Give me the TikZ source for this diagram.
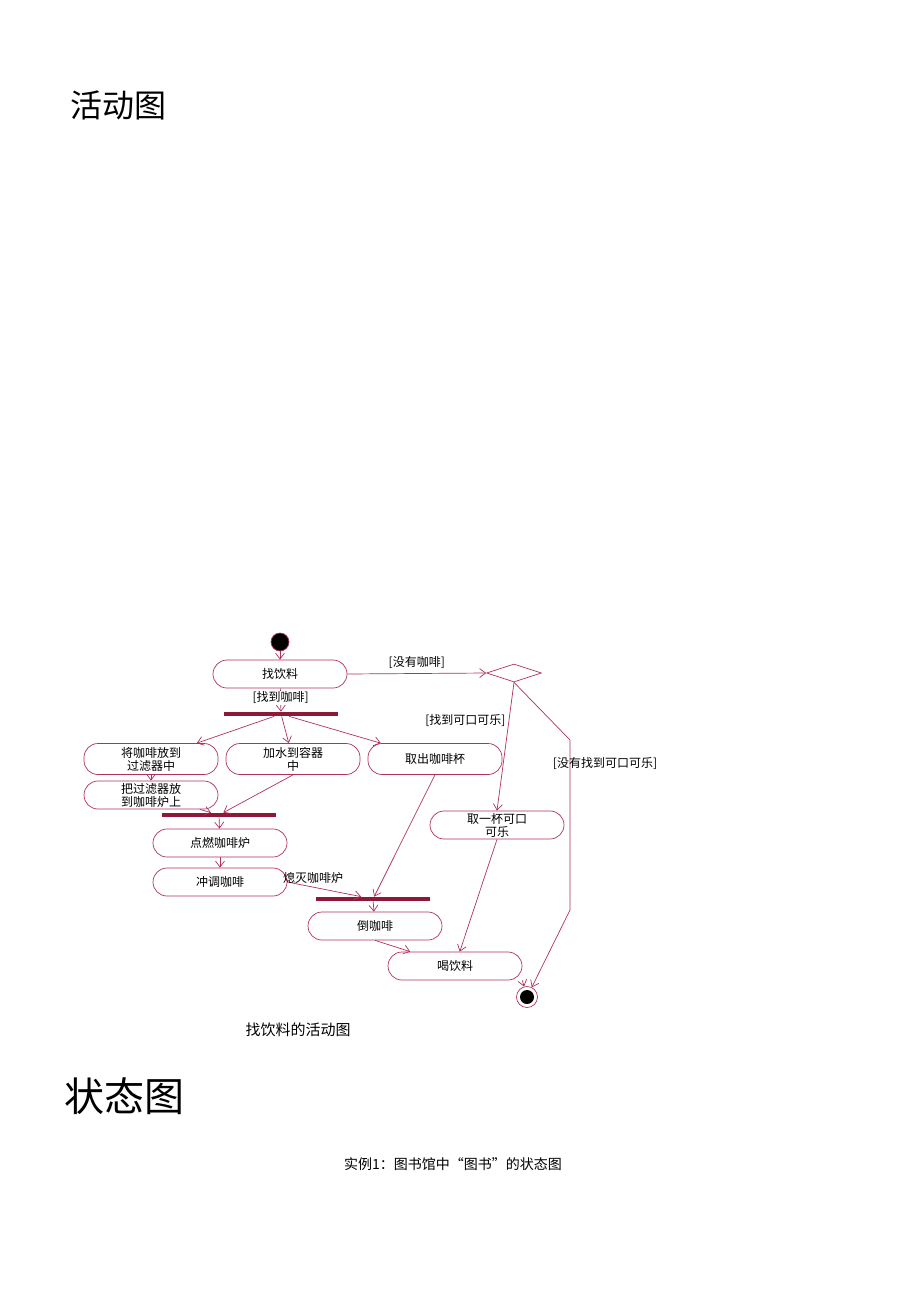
\documentclass[tikz,border=0pt]{standalone}
\usepackage{fontspec}
\setmainfont{Noto Sans CJK SC}
\usetikzlibrary{shapes.geometric,arrows.meta}
\definecolor{ln}{HTML}{B03060}
\definecolor{bar}{HTML}{8E1838}
\begin{document}
\begin{tikzpicture}[x=1pt,y=-1pt,line width=0.7pt,
  act/.style={draw=ln,rounded corners=14pt,minimum width=134pt,minimum height=28pt,font=\fontsize{12}{13}\selectfont,align=center,inner sep=1pt},
  fl/.style={draw=ln,-{Straight Barb[length=6pt,width=9pt]}},
  lab/.style={font=\fontsize{12}{13}\selectfont,inner sep=1pt},
  barst/.style={fill=bar,minimum width=114pt,minimum height=4pt,inner sep=0pt}]
\useasboundingbox (0,0) rectangle (920,1301);
\node[font=\fontsize{32}{34}\selectfont] (t1) at (118,105) {活动图};
\node[font=\fontsize{40}{42}\selectfont] (t2) at (124,1096) {状态图};
\node[font=\fontsize{15}{16}\selectfont] (cap) at (298,1030) {找饮料的活动图};
\node[font=\fontsize{14}{15}\selectfont] (cap2) at (453,1164) {实例1：图书馆中“图书”的状态图};

\node[circle,fill=black,draw=ln,minimum size=18pt,inner sep=0pt] (s) at (280,642) {};
\node[act] (a1) at (280,674) {找饮料};
\node[diamond,draw=ln,minimum width=55pt,minimum height=18pt,inner sep=0pt,aspect=3] (d) at (514,673) {};
\node[barst] (b1) at (281,714) {};
\node[act,minimum height=31pt] (a2) at (151,759) {将咖啡放到\\过滤器中};
\node[act,minimum height=31pt] (a3) at (293,759) {加水到容器\\中};
\node[act,minimum height=31pt] (a4) at (435,759) {取出咖啡杯};
\node[act] (a5) at (151,795) {把过滤器放\\到咖啡炉上};
\node[barst] (b2) at (219,815) {};
\node[act] (a6) at (220,843) {点燃咖啡炉};
\node[act] (a7) at (220,882) {冲调咖啡};
\node[barst] (b3) at (373,899) {};
\node[act] (a8) at (375,926) {倒咖啡};
\node[act] (a9) at (497,825) {取一杯可口\\可乐};
\node[act] (a10) at (455,966) {喝饮料};
\node[circle,draw=ln,minimum size=21pt,inner sep=0pt] (e) at (527,997) {};
\node[circle,fill=black,minimum size=14pt,inner sep=0pt] (ei) at (527,997) {};
\coordinate (k) at (570,740);
\coordinate (k2) at (570,910);

\draw[fl] (s) -- (a1);
\draw[fl] (a1.east) -- (d.west) node[lab,midway,above=4pt] {[没有咖啡]};
\draw[fl] (a1) -- (b1) node[lab,pos=0.4,fill=white] {[找到咖啡]};
\draw[fl] (b1) -- (a2);
\draw[fl] (b1) -- (a3);
\draw[fl] (b1) -- (a4);
\draw[fl] (a2) -- (a5);
\draw[fl] (a5) -- (b2);
\draw[fl] (a3.south) -- (b2);
\draw[fl] (b2) -- (a6);
\draw[fl] (a6) -- (a7);
\draw[fl] (a7.east) -- (b3) node[lab,pos=0.35,above=2pt] {熄灭咖啡炉};
\draw[fl] (a4.south) -- (b3);
\draw[fl] (b3) -- (a8);
\draw[fl] (a8.south) -- (a10);
\draw[fl] (d.south) -- (a9.north) node[lab,pos=0.3,left=2pt] {[找到可口可乐]};
\draw[fl] (a9.south) -- (a10);
\draw[fl] (a10.south east) -- (e);
\draw[fl] (d.south) -- (k) -- (k2) -- (e);
\node[lab] (l5) at (605,763) {[没有找到可口可乐]};
\end{tikzpicture}
\end{document}
